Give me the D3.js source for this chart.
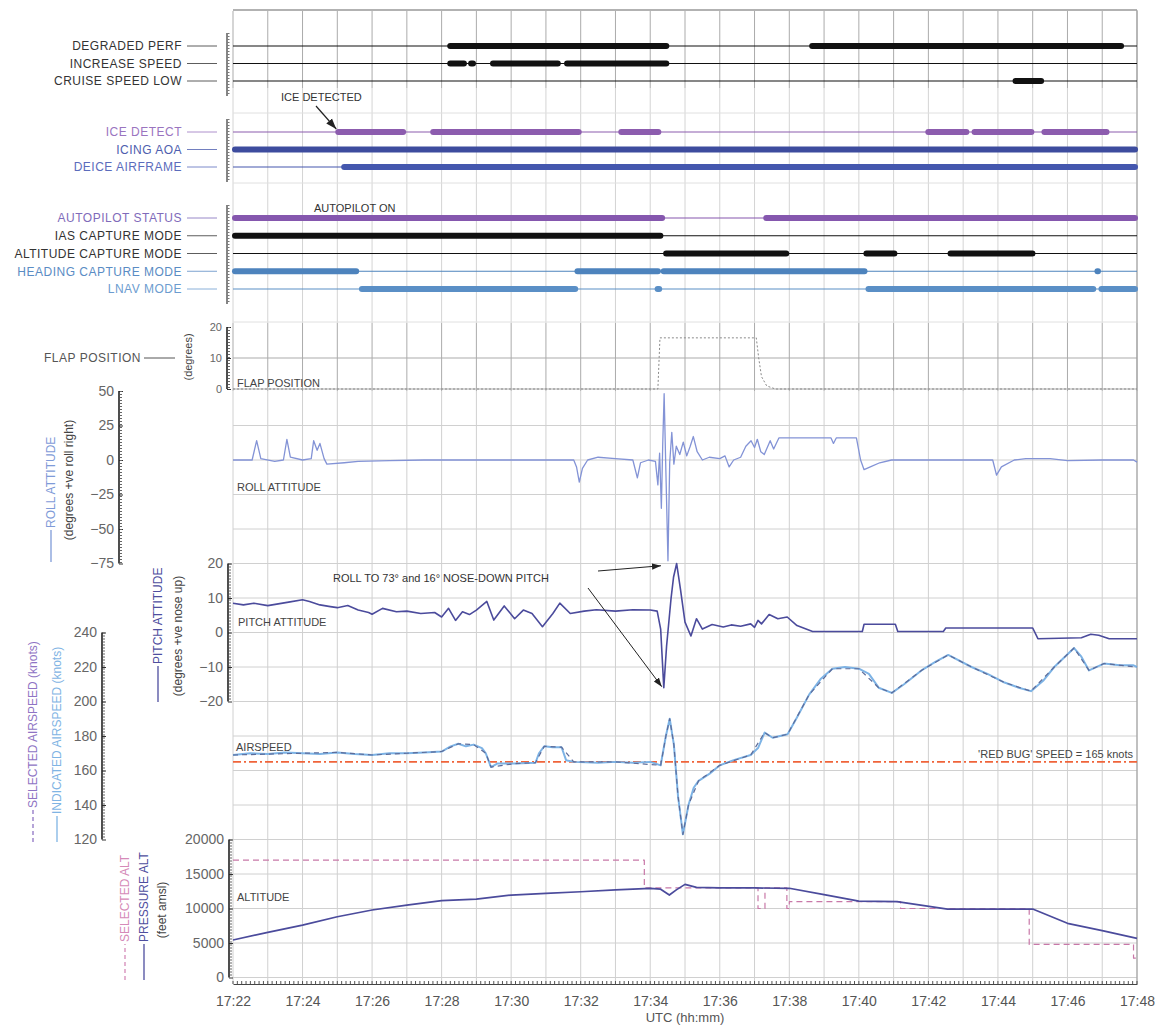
<!DOCTYPE html>
<html>
<head>
<meta charset="utf-8">
<script src="https://cdn.jsdelivr.net/npm/d3@7"></script>
<style>
body { margin: 0; background: #fff; }
text { font-family: "Liberation Sans", Arial, sans-serif; }
</style>
</head>
<body>
<div id="chart"></div>
<script>
// ---- data (time = minutes past 17:00 UTC) ----
const timeTicks = [22, 24, 26, 28, 30, 32, 34, 36, 38, 40, 42, 44, 46, 48];
const rollTicks = [-75, -50, -25, 0, 25, 50];
const pitchTicks = [-20, -10, 0, 10, 20];
const airspeedTicks = [120, 140, 160, 180, 200, 220, 240];
const altitudeTicks = [0, 5000, 10000, 15000, 20000];
const flapTicks = [0, 10, 20];

// discrete parameters: [on, off] intervals
const degradedPerf = [[28.19, 34.52], [38.6, 47.6]];
const increaseSpeed = [[28.19, 28.7], [28.79, 28.96], [29.42, 31.4], [31.55, 34.52]];
const cruiseSpeedLow = [[44.45, 45.3]];
const iceDetect = [[24.97, 26.95], [27.7, 32.0], [33.11, 34.29], [41.94, 43.15], [43.27, 45.02], [45.28, 47.18]];
const icingAoa = [[22, 48]];
const deiceAirframe = [[25.14, 48]];
const autopilotStatus = [[22, 34.4], [37.28, 48]];
const iasCaptureMode = [[22, 34.35]];
const altitudeCaptureMode = [[34.4, 37.97], [40.16, 41.08], [42.58, 45.05]];
const headingCaptureMode = [[22, 25.6], [31.85, 34.28], [34.33, 40.22], [46.82, 46.92]];
const lnavMode = [[25.65, 31.9], [34.2, 34.27], [40.22, 46.8], [46.92, 48]];

const flapPosition = [[22, 0], [34.22, 0], [34.28, 16.5], [37.05, 16.5], [37.12, 10], [37.2, 4], [37.35, 1], [37.6, 0], [48, 0]];

const rollAttitude = [[22.0, 0], [22.55, 0], [22.68, 14], [22.8, 1], [23.2, -1], [23.45, 0], [23.55, 15], [23.65, 2],
  [24.0, 0], [24.25, 1], [24.32, 14], [24.42, 7], [24.5, 12], [24.62, 1], [24.7, -3], [25.2, -2], [25.6, -1],
  [26.5, -0.5], [27.5, 0], [29, 0], [30.5, 0], [31.8, 0], [31.88, -5], [31.96, -16], [32.05, -6], [32.2, 0],
  [32.5, 2], [33.0, 1], [33.5, 0], [33.63, -13], [33.72, -2], [33.95, 0], [34.15, -1], [34.22, -18], [34.27, 5],
  [34.32, -35], [34.36, 12], [34.4, 48], [34.45, -8], [34.51, -73], [34.56, -2], [34.62, 20], [34.68, -3],
  [34.75, 10], [34.85, 4], [34.95, 13], [35.05, 3], [35.15, 10], [35.24, 17], [35.35, 6], [35.5, 0], [35.7, 2],
  [36.0, 1], [36.15, 3], [36.27, -5], [36.4, 0], [36.6, 2], [36.75, 10], [36.9, 14], [37.0, 9], [37.08, 15],
  [37.18, 6], [37.28, 4], [37.45, 14], [37.55, 8], [37.7, 16], [38.5, 16], [39.2, 16], [39.27, 12], [39.35, 16],
  [39.93, 16], [40.05, 0], [40.15, -7], [40.33, -5], [40.6, -2], [40.94, 0], [42, 0], [43.0, 0], [43.85, 0],
  [43.96, -11], [44.1, -5], [44.47, 0], [44.8, 1], [45.5, 1], [46.0, -0.5], [47.0, 0], [47.9, 0], [48.0, -1.5]];

const pitchAttitude = [[22.0, 8.5], [22.3, 8], [22.6, 8.5], [23.0, 7.8], [23.3, 8.3], [23.6, 8.8], [24.0, 9.5],
  [24.2, 9], [24.5, 8], [24.8, 7.5], [25.0, 7.2], [25.3, 7.8], [25.6, 6.5], [25.9, 5.8], [26.0, 5.3], [26.3, 7],
  [26.7, 6], [27.0, 6.2], [27.4, 5.5], [27.8, 5.8], [28.0, 4.5], [28.2, 7], [28.4, 3.5], [28.6, 6], [28.8, 5.2],
  [29.0, 6.5], [29.3, 9], [29.5, 3.6], [29.8, 7.7], [30.1, 4], [30.35, 6.5], [30.6, 5.5], [30.9, 1.7], [31.2, 5.5],
  [31.4, 8.5], [31.7, 5.5], [32.1, 6.2], [32.45, 6.6], [33.0, 6.2], [33.5, 6.6], [34.0, 6.5], [34.2, 6.2],
  [34.3, 1], [34.39, -16], [34.47, -4], [34.6, 10], [34.67, 16], [34.76, 20], [34.87, 12.5], [35.0, 3],
  [35.17, -1], [35.33, 4], [35.5, 1], [35.78, 2.3], [36.1, 1.6], [36.33, 2.2], [36.6, 1.8], [36.89, 2.5],
  [37.0, 1.5], [37.1, 3.5], [37.2, 2.5], [37.42, 5.2], [37.67, 4], [37.94, 4.5], [38.22, 2], [38.67, 0.3],
  [40.1, 0.3], [40.15, 2.4], [41.05, 2.4], [41.12, 0.3], [42.43, 0.3], [42.5, 1.3], [45.0, 1.3], [45.15, -1.8],
  [46.4, -1.5], [46.67, -0.5], [46.9, -0.8], [47.2, -1.8], [48.0, -1.8]];

const indicatedAirspeed = [[22.0, 169], [22.5, 170], [23.0, 169.5], [23.5, 170.5], [24.0, 170], [24.5, 169.5],
  [25.0, 170.5], [25.5, 169.5], [26.0, 169], [26.5, 170], [27.0, 170], [27.5, 170.5], [28.0, 171], [28.26, 174],
  [28.48, 175.5], [28.7, 174], [28.92, 175], [29.16, 173], [29.27, 170], [29.42, 162], [29.6, 164], [30.1, 164],
  [30.7, 164.5], [30.8, 170], [30.95, 174], [31.2, 173.5], [31.45, 173.5], [31.58, 166], [31.8, 165],
  [32.5, 164.5], [33.0, 165], [33.5, 164.5], [34.0, 165], [34.3, 163], [34.45, 180], [34.56, 190], [34.68, 175],
  [34.8, 145], [34.94, 123], [35.1, 140], [35.25, 150], [35.39, 154], [35.7, 158], [36.0, 163], [36.4, 166],
  [36.89, 169], [37.1, 173], [37.29, 182], [37.52, 179], [37.95, 181], [38.2, 190], [38.57, 204], [38.9, 213],
  [39.24, 219], [39.6, 220], [40.0, 219], [40.29, 216], [40.57, 208], [40.95, 205], [41.3, 210], [41.8, 218],
  [42.2, 223], [42.57, 227], [43.24, 220], [43.7, 216], [44.19, 211], [44.6, 208], [44.95, 206], [45.3, 212],
  [45.62, 220], [46.19, 231], [46.4, 226], [46.62, 218], [47.05, 222], [47.5, 221], [47.9, 221], [48.0, 220]];

const selectedAirspeed = [[22.0, 169], [23.0, 169.5], [24.0, 170], [25.0, 170.5], [26.0, 169], [27.0, 170],
  [28.0, 171], [28.48, 175.5], [28.92, 175], [29.27, 170], [29.42, 162], [30.1, 164], [30.7, 164.5],
  [30.95, 174], [31.45, 173.5], [31.8, 165], [33.0, 165], [34.3, 163], [34.45, 180], [34.56, 190], [34.68, 175],
  [34.8, 145], [34.94, 123], [35.1, 140], [35.39, 154], [36.0, 163], [36.89, 169], [37.29, 182], [37.52, 179],
  [37.95, 181], [38.57, 204], [39.24, 219], [40.0, 219], [40.57, 208], [40.95, 205], [41.8, 218], [42.57, 227],
  [43.24, 220], [44.19, 211], [44.95, 206], [45.62, 220], [46.19, 231], [46.62, 218], [47.05, 222], [48.0, 220]];

const redBugSpeed = 165;

const pressureAlt = [[22, 5430], [23, 6550], [24, 7600], [25, 8800], [26, 9780], [27, 10500], [28, 11130],
  [29, 11370], [30, 11950], [31, 12200], [32, 12430], [33, 12700], [34, 12930], [34.3, 12800], [34.55, 11950],
  [34.75, 12700], [35.0, 13500], [35.33, 13070], [36, 13000], [37, 12980], [38, 12930], [39, 12000],
  [40, 11080], [41.1, 10990], [42.55, 9920], [45, 9920], [46, 7850], [47, 6800], [48, 5680]];

const selectedAlt = [[22, 17000], [33.83, 13000], [37.1, 10000], [37.3, 13000], [37.93, 10000], [38.0, 11000],
  [41.2, 10000], [44.9, 4800], [47.9, 2800], [48, 2800]];

// ---- layout ----
const width = 1162, height = 1032;
const svg = d3.select('#chart').append('svg')
  .attr('width', width)
  .attr('height', height);

const x = d3.scaleLinear().domain([22, 48]).range([233, 1137]);
const rowStep = 34.5;
const zeroRow = 460;
const rollY = d3.scaleLinear().domain([-75, 50]).range([zeroRow + 3 * rowStep, zeroRow - 2 * rowStep]);
const pitchY = d3.scaleLinear().domain([-20, 20]).range([zeroRow + 7 * rowStep, zeroRow + 3 * rowStep]);
const iasY = d3.scaleLinear().domain([120, 240]).range([zeroRow + 11 * rowStep, zeroRow + 5 * rowStep]);
const altY = d3.scaleLinear().domain([0, 20000]).range([zeroRow + 15 * rowStep, zeroRow + 11 * rowStep]);
const flapY = d3.scaleLinear().domain([0, 20]).range([389, 327]);

const defs = svg.append('defs');
defs.append('marker')
  .attr('id', 'arrow')
  .attr('viewBox', '0 0 10 10')
  .attr('refX', 10).attr('refY', 5)
  .attr('markerWidth', 9).attr('markerHeight', 9)
  .attr('orient', 'auto')
  .append('path')
  .attr('d', 'M0,1.5L10,5L0,8.5z')
  .attr('fill', '#222');

// ---- grid ----
const grid = svg.append('g').classed('grid', true);
const minutes = x.ticks(26);
const gridBands = [
  { y1: 11, y2: 88, color: '#ababab' },
  { y1: 88, y2: 323, color: '#d4d4d4' },
  { y1: 323, y2: 391, color: '#ababab' },
  { y1: 391, y2: 984, color: '#d0d0d0' }
];
gridBands.forEach(b => {
  grid.selectAll(null)
    .data(minutes)
    .enter()
    .append('line')
    .attr('x1', d => x(d)).attr('x2', d => x(d))
    .attr('y1', b.y1).attr('y2', b.y2)
    .attr('stroke', b.color)
    .attr('stroke-width', 1);
});
grid.selectAll(null)
  .data(d3.range(-1, 16))
  .enter()
  .append('line')
  .attr('x1', x(22)).attr('x2', x(48))
  .attr('y1', d => zeroRow + d * rowStep).attr('y2', d => zeroRow + d * rowStep)
  .attr('stroke', '#d0d0d0');
[113, 183, 322].forEach(yy => {
  grid.append('line').attr('x1', x(22)).attr('x2', x(48)).attr('y1', yy).attr('y2', yy).attr('stroke', '#e0e0e0');
});
[flapY(10), flapY(0)].forEach(yy => {
  grid.append('line').attr('x1', x(22)).attr('x2', x(48)).attr('y1', yy).attr('y2', yy).attr('stroke', '#ababab');
});
svg.append('line').attr('x1', x(22)).attr('x2', x(48)).attr('y1', 10).attr('y2', 10).attr('stroke', '#666').attr('stroke-width', 1.2);
svg.append('line').attr('x1', x(48)).attr('x2', x(48)).attr('y1', 10).attr('y2', 984).attr('stroke', '#999');

// ---- helpers ----
function bracket(xPos, y1, y2) {
  svg.append('line').attr('x1', xPos).attr('x2', xPos).attr('y1', y1).attr('y2', y2)
    .attr('stroke', '#444').attr('stroke-width', 1.3);
  svg.append('line').attr('x1', xPos + 1.5).attr('x2', xPos + 1.5).attr('y1', y1).attr('y2', y2)
    .attr('stroke', '#777').attr('stroke-width', 2).attr('stroke-dasharray', '1,2');
}

function discretePanel(rows, yRange) {
  const y = d3.scalePoint().domain(rows.map(r => r.label)).range(yRange);
  rows.forEach(r => {
    const yy = y(r.label);
    svg.append('line')
      .attr('x1', x(22)).attr('x2', x(48))
      .attr('y1', yy).attr('y2', yy)
      .attr('stroke', r.color)
      .attr('stroke-width', 1.1);
    svg.selectAll(null)
      .data(r.on)
      .enter()
      .append('line')
      .attr('x1', d => x(d[0]) + 2).attr('x2', d => x(d[1]) - 2)
      .attr('y1', yy).attr('y2', yy)
      .attr('stroke', r.color)
      .attr('stroke-width', 6)
      .attr('stroke-linecap', 'round');
    svg.append('text')
      .attr('x', 182).attr('y', yy)
      .attr('dy', '0.36em')
      .attr('text-anchor', 'end')
      .attr('font-size', 12)
      .attr('letter-spacing', 0.5)
      .attr('fill', r.text)
      .text(r.label);
    svg.append('line')
      .attr('x1', 187).attr('x2', 217)
      .attr('y1', yy).attr('y2', yy)
      .attr('stroke', r.text)
      .attr('stroke-width', 0.8);
  });
  bracket(227, yRange[0] - 13, yRange[1] + 15);
  return y;
}

function leftAxis(scale, xPos, ticks, size) {
  const g = svg.append('g')
    .attr('transform', `translate(${xPos},0)`)
    .call(d3.axisLeft(scale).tickValues(ticks).tickSizeInner(-4).tickSizeOuter(0).tickPadding(5).tickFormat(d3.format('d')));
  g.select('.domain').remove();
  g.selectAll('.tick line').attr('stroke', '#333');
  g.selectAll('.tick text')
    .attr('font-size', size)
    .attr('fill', '#666')
    .attr('font-family', '"Liberation Sans", Arial, sans-serif');
  const ext = d3.extent(scale.range());
  g.append('line').attr('x1', 0).attr('x2', 0).attr('y1', ext[0]).attr('y2', ext[1])
    .attr('stroke', '#222').attr('stroke-width', 1.6);
  g.append('line').attr('x1', 2).attr('x2', 2).attr('y1', ext[0]).attr('y2', ext[1])
    .attr('stroke', '#666').attr('stroke-width', 2).attr('stroke-dasharray', '1,2');
}

function sideLabel(cx, yStart, label, color, dash, lineLen) {
  const g = svg.append('g').attr('transform', `translate(${cx},${yStart}) rotate(-90)`);
  g.append('line')
    .attr('x1', 0).attr('x2', lineLen)
    .attr('stroke', color)
    .attr('stroke-width', 1.3)
    .attr('stroke-dasharray', dash);
  g.append('text')
    .attr('x', lineLen + 2)
    .attr('dy', '0.35em')
    .attr('font-size', 12)
    .attr('fill', color)
    .text(label);
}

function unitLabel(cx, cy, label, size) {
  svg.append('text')
    .attr('transform', `translate(${cx},${cy}) rotate(-90)`)
    .attr('text-anchor', 'middle')
    .attr('dy', '0.35em')
    .attr('font-size', size || 12)
    .attr('fill', '#444')
    .text(label);
}

function innerLabel(xPos, yPos, label) {
  svg.append('text')
    .attr('x', xPos).attr('y', yPos)
    .attr('font-size', 11)
    .attr('fill', '#444')
    .text(label);
}

function trace(data, yScale, color, widthPx, dash, curve) {
  const line = d3.line()
    .curve(curve || d3.curveLinear)
    .x(d => x(d[0]))
    .y(d => yScale(d[1]));
  svg.append('path')
    .datum(data)
    .attr('d', line)
    .attr('fill', 'none')
    .attr('stroke', color)
    .attr('stroke-width', widthPx)
    .attr('stroke-dasharray', dash)
    .attr('stroke-linejoin', 'round');
}

// ---- discrete panels ----
discretePanel([
  { label: 'DEGRADED PERF', on: degradedPerf, color: '#111', text: '#333' },
  { label: 'INCREASE SPEED', on: increaseSpeed, color: '#111', text: '#333' },
  { label: 'CRUISE SPEED LOW', on: cruiseSpeedLow, color: '#111', text: '#333' }
], [46, 81]);

const iceRows = discretePanel([
  { label: 'ICE DETECT', on: iceDetect, color: '#8c5cae', text: '#9a74bf' },
  { label: 'ICING AOA', on: icingAoa, color: '#3d4c9e', text: '#4e5eae' },
  { label: 'DEICE AIRFRAME', on: deiceAirframe, color: '#4457ae', text: '#5b6cbc' }
], [132, 167]);

discretePanel([
  { label: 'AUTOPILOT STATUS', on: autopilotStatus, color: '#8557ae', text: '#7f6bba' },
  { label: 'IAS CAPTURE MODE', on: iasCaptureMode, color: '#111', text: '#333' },
  { label: 'ALTITUDE CAPTURE MODE', on: altitudeCaptureMode, color: '#111', text: '#333' },
  { label: 'HEADING CAPTURE MODE', on: headingCaptureMode, color: '#4d83bd', text: '#5a8cc4' },
  { label: 'LNAV MODE', on: lnavMode, color: '#5a8fc6', text: '#6c9ccf' }
], [218, 289]);

svg.append('text').attr('x', 281).attr('y', 101).attr('font-size', 11).attr('fill', '#333').text('ICE DETECTED');
svg.append('line')
  .attr('x1', 316).attr('y1', 106)
  .attr('x2', x(iceDetect[0][0])).attr('y2', iceRows('ICE DETECT') - 3)
  .attr('stroke', '#222').attr('stroke-width', 1.2)
  .attr('marker-end', 'url(#arrow)');
svg.append('text').attr('x', 314).attr('y', 212).attr('font-size', 11).attr('fill', '#333').text('AUTOPILOT ON');

// ---- flap panel ----
leftAxis(flapY, 227, flapTicks, 11);
unitLabel(188, 357, '(degrees)', 11);
svg.append('text').attr('x', 141).attr('y', flapY(10)).attr('dy', '0.35em')
  .attr('text-anchor', 'end').attr('font-size', 12).attr('letter-spacing', 0.5).attr('fill', '#555').text('FLAP POSITION');
svg.append('line').attr('x1', 144).attr('x2', 175).attr('y1', flapY(10)).attr('y2', flapY(10)).attr('stroke', '#555');
trace(flapPosition, flapY, '#8a8a8a', 1, '2,2');
innerLabel(237, 387, 'FLAP POSITION');

// ---- roll ----
leftAxis(rollY, 119, rollTicks, 14);
sideLabel(51, 562, 'ROLL ATTITUDE', '#7f9bd8', null, 32);
unitLabel(69, 480, '(degrees +ve roll right)');
trace(rollAttitude, rollY, '#8393d6', 1.3);
innerLabel(237, 491, 'ROLL ATTITUDE');

// ---- pitch ----
leftAxis(pitchY, 228, pitchTicks, 14);
sideLabel(158, 702, 'PITCH ATTITUDE', '#4e4e9e', null, 36);
unitLabel(178, 636, '(degrees +ve nose up)');
trace(pitchAttitude, pitchY, '#4b4b9c', 1.6);
innerLabel(238, 626, 'PITCH ATTITUDE');

// ---- airspeed ----
leftAxis(iasY, 102, airspeedTicks, 14);
sideLabel(33, 842, 'SELECTED AIRSPEED (knots)', '#8f74c4', '4,3', 32);
sideLabel(57, 842, 'INDICATED AIRSPEED (knots)', '#7fb4e4', null, 26);
svg.append('line')
  .attr('x1', x(22)).attr('x2', x(48))
  .attr('y1', iasY(redBugSpeed)).attr('y2', iasY(redBugSpeed))
  .attr('stroke', '#f0643a').attr('stroke-width', 1.6)
  .attr('stroke-dasharray', '8,3,2,3');
trace(indicatedAirspeed, iasY, '#7db3e5', 2);
trace(selectedAirspeed, iasY, '#5d6c9a', 1.2, '5,4');
innerLabel(236, 751, 'AIRSPEED');
svg.append('text').attr('x', 1133).attr('y', iasY(redBugSpeed) - 4)
  .attr('text-anchor', 'end').attr('font-size', 11).attr('fill', '#444')
  .text("'RED BUG' SPEED = 165 knots");

// ---- altitude ----
leftAxis(altY, 229, altitudeTicks, 14);
sideLabel(125, 980, 'SELECTED ALT', '#d58ab8', '4,3', 36);
sideLabel(144, 980, 'PRESSURE ALT', '#4e4e9e', null, 36);
unitLabel(162, 910, '(feet amsl)');
trace(selectedAlt, altY, '#c878a8', 1.2, '6,4', d3.curveStepAfter);
trace(pressureAlt, altY, '#4b4b9c', 1.7);
innerLabel(237, 901, 'ALTITUDE');

// ---- annotation ----
svg.append('text').attr('x', 333).attr('y', 582).attr('font-size', 11).attr('fill', '#333')
  .text('ROLL TO 73\u00b0 and 16\u00b0 NOSE-DOWN PITCH');
const rollLow = rollAttitude.find(d => d[1] === d3.min(rollAttitude, r => r[1]));
const pitchLow = pitchAttitude.find(d => d[1] === d3.min(pitchAttitude, r => r[1]));
svg.append('line')
  .attr('x1', 598).attr('y1', 571)
  .attr('x2', x(rollLow[0]) - 7).attr('y2', rollY(rollLow[1]) + 5)
  .attr('stroke', '#222').attr('stroke-width', 1)
  .attr('marker-end', 'url(#arrow)');
svg.append('line')
  .attr('x1', 588).attr('y1', 588)
  .attr('x2', x(pitchLow[0]) - 2).attr('y2', pitchY(pitchLow[1]) - 1)
  .attr('stroke', '#222').attr('stroke-width', 1)
  .attr('marker-end', 'url(#arrow)');

// ---- time axis ----
const xAxisY = 984;
const xg = svg.append('g')
  .attr('transform', `translate(0,${xAxisY})`)
  .call(d3.axisBottom(x).tickValues(timeTicks).tickSize(0).tickPadding(12).tickFormat(d => '17:' + d));
xg.select('.domain').attr('stroke', '#444').attr('stroke-width', 1.2);
xg.selectAll('.tick text')
  .attr('font-size', 14)
  .attr('fill', '#555')
  .attr('font-family', '"Liberation Sans", Arial, sans-serif');
xg.selectAll(null)
  .data(d3.range(22, 48.001, 0.125))
  .enter()
  .append('line')
  .attr('x1', d => x(d)).attr('x2', d => x(d))
  .attr('y1', -3).attr('y2', 0)
  .attr('stroke', '#555');
svg.append('text')
  .attr('x', 685).attr('y', 1022)
  .attr('text-anchor', 'middle')
  .attr('font-size', 13)
  .attr('fill', '#555')
  .text('UTC (hh:mm)');
</script>
</body>
</html>
